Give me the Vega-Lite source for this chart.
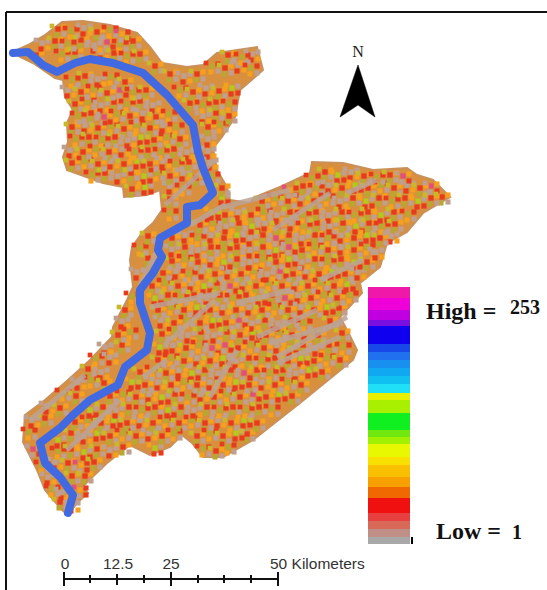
{"$schema":"https://vega.github.io/schema/vega-lite/v6.json","width":547,"height":590,"padding":0,"autosize":{"type":"none"},"background":"white","config":{"view":{"stroke":null}},
"datasets":{
"basin":[{"x":13,"y":52},{"x":28,"y":45},{"x":45,"y":35},{"x":62,"y":22},{"x":83,"y":21},{"x":110,"y":25},{"x":137,"y":33},{"x":150,"y":47},{"x":162,"y":63},{"x":187,"y":67},{"x":203,"y":65},{"x":217,"y":53},{"x":257,"y":47},{"x":263,"y":70},{"x":240,"y":90},{"x":235,"y":117},{"x":222,"y":137},{"x":213,"y":148},{"x":217,"y":170},{"x":227,"y":187},{"x":230,"y":200},{"x":250,"y":203},{"x":255,"y":197},{"x":280,"y":187},{"x":310,"y":173},{"x":312,"y":162},{"x":343,"y":163},{"x":373,"y":170},{"x":407,"y":168},{"x":417,"y":175},{"x":433,"y":180},{"x":450,"y":197},{"x":423,"y":213},{"x":407,"y":232},{"x":387,"y":243},{"x":380,"y":267},{"x":360,"y":283},{"x":362,"y":293},{"x":340,"y":317},{"x":347,"y":330},{"x":357,"y":350},{"x":353,"y":360},{"x":300,"y":403},{"x":253,"y":440},{"x":223,"y":457},{"x":203,"y":457},{"x":192,"y":443},{"x":182,"y":435},{"x":170,"y":447},{"x":150,"y":455},{"x":130,"y":445},{"x":107,"y":463},{"x":82,"y":487},{"x":88,"y":493},{"x":77,"y":503},{"x":68,"y":515},{"x":62,"y":510},{"x":45,"y":490},{"x":37,"y":470},{"x":23,"y":442},{"x":25,"y":415},{"x":45,"y":400},{"x":68,"y":380},{"x":90,"y":360},{"x":112,"y":337},{"x":113,"y":327},{"x":127,"y":300},{"x":133,"y":287},{"x":130,"y":260},{"x":132,"y":247},{"x":143,"y":232},{"x":153,"y":223},{"x":162,"y":210},{"x":160,"y":190},{"x":147,"y":195},{"x":124,"y":197},{"x":123,"y":187},{"x":103,"y":183},{"x":67,"y":170},{"x":63,"y":157},{"x":68,"y":142},{"x":67,"y":123},{"x":73,"y":110},{"x":65,"y":97},{"x":63,"y":80},{"x":55,"y":78},{"x":33,"y":63},{"x":20,"y":57}],
"river":[{"x":13,"y":53},{"x":28,"y":52},{"x":43,"y":65},{"x":57,"y":72},{"x":75,"y":63},{"x":90,"y":59},{"x":113,"y":63},{"x":143,"y":73},{"x":167,"y":95},{"x":193,"y":125},{"x":198,"y":152},{"x":203,"y":168},{"x":213,"y":193},{"x":200,"y":205},{"x":187,"y":207},{"x":187,"y":223},{"x":160,"y":238},{"x":158,"y":250},{"x":162,"y":257},{"x":153,"y":273},{"x":140,"y":290},{"x":140,"y":303},{"x":150,"y":333},{"x":147,"y":350},{"x":125,"y":367},{"x":118,"y":385},{"x":90,"y":400},{"x":73,"y":415},{"x":60,"y":428},{"x":40,"y":443},{"x":45,"y":463},{"x":60,"y":477},{"x":73,"y":495},{"x":68,"y":513}],
"ridges":[{"s":1,"x":257,"y":337},{"s":1,"x":317,"y":310},{"s":2,"x":277,"y":357},{"s":2,"x":347,"y":317},{"s":3,"x":237,"y":303},{"s":3,"x":290,"y":290},{"s":4,"x":150,"y":307},{"s":4,"x":220,"y":293},{"s":5,"x":320,"y":280},{"s":5,"x":363,"y":260},{"s":6,"x":67,"y":450},{"s":6,"x":103,"y":417},{"s":7,"x":87,"y":430},{"s":7,"x":120,"y":400},{"s":8,"x":270,"y":343},{"s":8,"x":343,"y":323},{"s":9,"x":277,"y":363},{"s":9,"x":340,"y":337},{"s":10,"x":210,"y":397},{"s":10,"x":237,"y":350},{"s":11,"x":143,"y":377},{"s":11,"x":167,"y":360},{"s":12,"x":223,"y":207},{"s":12,"x":290,"y":190},{"s":13,"x":347,"y":193},{"s":13,"x":377,"y":180},{"s":14,"x":273,"y":230},{"s":14,"x":330,"y":193},{"s":15,"x":140,"y":285},{"s":15,"x":160,"y":245},{"s":16,"x":170,"y":340},{"s":16,"x":215,"y":300},{"s":17,"x":30,"y":420},{"s":17,"x":85,"y":375},{"s":18,"x":190,"y":225},{"s":18,"x":225,"y":205},{"s":19,"x":165,"y":205},{"s":19,"x":215,"y":160}],
"cells":[
{"x":58,"y":29,"k":"r"},{"x":71,"y":31,"k":"l"},{"x":84,"y":28,"k":"g"},{"x":97,"y":32,"k":"r"},{"x":110,"y":30,"k":"l"},{"x":122,"y":34,"k":"o"},
{"x":42,"y":43,"k":"g"},{"x":55,"y":41,"k":"r"},{"x":68,"y":44,"k":"l"},{"x":81,"y":40,"k":"r"},{"x":94,"y":45,"k":"g"},{"x":107,"y":42,"k":"p"},{"x":120,"y":44,"k":"l"},{"x":133,"y":41,"k":"r"},
{"x":36,"y":55,"k":"r"},{"x":62,"y":54,"k":"l"},{"x":75,"y":52,"k":"r"},{"x":101,"y":52,"k":"g"},{"x":114,"y":53,"k":"r"},{"x":127,"y":56,"k":"l"},{"x":140,"y":54,"k":"r"},{"x":228,"y":55,"k":"r"},{"x":242,"y":57,"k":"l"},{"x":252,"y":54,"k":"g"},
{"x":155,"y":66,"k":"r"},{"x":212,"y":66,"k":"l"},{"x":225,"y":68,"k":"r"},{"x":238,"y":65,"k":"g"},{"x":251,"y":68,"k":"l"},{"x":170,"y":74,"k":"r"},{"x":184,"y":76,"k":"g"},{"x":197,"y":74,"k":"r"},{"x":72,"y":80,"k":"l"},{"x":85,"y":76,"k":"r"},{"x":98,"y":79,"k":"g"},{"x":111,"y":77,"k":"l"},{"x":125,"y":82,"k":"r"},
{"x":68,"y":90,"k":"g"},{"x":81,"y":92,"k":"r"},{"x":94,"y":89,"k":"l"},{"x":107,"y":93,"k":"r"},{"x":120,"y":90,"k":"p"},{"x":133,"y":92,"k":"l"},{"x":146,"y":90,"k":"r"},{"x":180,"y":90,"k":"l"},{"x":193,"y":92,"k":"r"},{"x":206,"y":88,"k":"g"},{"x":219,"y":91,"k":"r"},{"x":232,"y":88,"k":"y"},
{"x":75,"y":104,"k":"r"},{"x":88,"y":102,"k":"l"},{"x":101,"y":105,"k":"g"},{"x":114,"y":102,"k":"r"},{"x":127,"y":104,"k":"l"},{"x":140,"y":101,"k":"r"},{"x":153,"y":105,"k":"g"},{"x":190,"y":103,"k":"r"},{"x":203,"y":105,"k":"l"},{"x":216,"y":102,"k":"r"},{"x":229,"y":104,"k":"l"},
{"x":78,"y":116,"k":"l"},{"x":91,"y":113,"k":"r"},{"x":104,"y":117,"k":"p"},{"x":117,"y":114,"k":"l"},{"x":130,"y":116,"k":"r"},{"x":143,"y":113,"k":"g"},{"x":156,"y":117,"k":"r"},{"x":169,"y":114,"k":"l"},{"x":203,"y":116,"k":"g"},{"x":216,"y":113,"k":"r"},{"x":229,"y":116,"k":"r"},
{"x":72,"y":127,"k":"r"},{"x":85,"y":125,"k":"g"},{"x":98,"y":128,"k":"r"},{"x":111,"y":126,"k":"l"},{"x":124,"y":129,"k":"r"},{"x":137,"y":125,"k":"l"},{"x":150,"y":128,"k":"r"},{"x":163,"y":125,"k":"g"},{"x":176,"y":127,"k":"l"},{"x":208,"y":127,"k":"r"},{"x":220,"y":125,"k":"l"},
{"x":76,"y":139,"k":"l"},{"x":89,"y":137,"k":"r"},{"x":102,"y":140,"k":"l"},{"x":115,"y":137,"k":"r"},{"x":128,"y":140,"k":"g"},{"x":141,"y":137,"k":"y"},{"x":154,"y":140,"k":"r"},{"x":167,"y":137,"k":"l"},{"x":180,"y":139,"k":"r"},{"x":208,"y":139,"k":"g"},
{"x":70,"y":150,"k":"g"},{"x":83,"y":152,"k":"r"},{"x":96,"y":149,"k":"l"},{"x":109,"y":152,"k":"r"},{"x":122,"y":149,"k":"g"},{"x":135,"y":152,"k":"l"},{"x":148,"y":150,"k":"r"},{"x":161,"y":152,"k":"l"},{"x":174,"y":149,"k":"r"},{"x":187,"y":152,"k":"g"},{"x":208,"y":151,"k":"g"},
{"x":72,"y":163,"k":"r"},{"x":85,"y":161,"k":"l"},{"x":98,"y":164,"k":"r"},{"x":111,"y":161,"k":"g"},{"x":124,"y":164,"k":"r"},{"x":137,"y":161,"k":"y"},{"x":150,"y":164,"k":"r"},{"x":163,"y":161,"k":"g"},{"x":176,"y":164,"k":"l"},{"x":189,"y":162,"k":"r"},{"x":210,"y":162,"k":"g"},
{"x":92,"y":175,"k":"l"},{"x":105,"y":173,"k":"r"},{"x":118,"y":176,"k":"g"},{"x":131,"y":173,"k":"r"},{"x":144,"y":176,"k":"y"},{"x":157,"y":173,"k":"l"},{"x":170,"y":176,"k":"r"},{"x":183,"y":173,"k":"g"},{"x":196,"y":178,"k":"r"},{"x":212,"y":176,"k":"l"},{"x":312,"y":178,"k":"l"},{"x":325,"y":172,"k":"r"},{"x":338,"y":175,"k":"y"},{"x":351,"y":172,"k":"g"},{"x":364,"y":176,"k":"r"},{"x":377,"y":177,"k":"l"},{"x":390,"y":175,"k":"r"},{"x":403,"y":176,"k":"p"},
{"x":132,"y":189,"k":"r"},{"x":145,"y":187,"k":"y"},{"x":170,"y":186,"k":"g"},{"x":183,"y":188,"k":"l"},{"x":222,"y":188,"k":"r"},{"x":290,"y":190,"k":"o"},{"x":303,"y":186,"k":"r"},{"x":316,"y":188,"k":"l"},{"x":329,"y":185,"k":"g"},{"x":342,"y":188,"k":"r"},{"x":355,"y":185,"k":"y"},{"x":368,"y":188,"k":"r"},{"x":381,"y":185,"k":"l"},{"x":394,"y":188,"k":"r"},{"x":407,"y":185,"k":"g"},{"x":420,"y":188,"k":"r"},{"x":431,"y":186,"k":"p"},
{"x":170,"y":199,"k":"r"},{"x":222,"y":197,"k":"y"},{"x":262,"y":201,"k":"r"},{"x":275,"y":198,"k":"l"},{"x":288,"y":201,"k":"r"},{"x":301,"y":198,"k":"g"},{"x":314,"y":201,"k":"r"},{"x":327,"y":198,"k":"l"},{"x":340,"y":201,"k":"g"},{"x":353,"y":198,"k":"r"},{"x":366,"y":201,"k":"y"},{"x":379,"y":198,"k":"r"},{"x":392,"y":201,"k":"l"},{"x":405,"y":198,"k":"r"},{"x":418,"y":201,"k":"y"},{"x":431,"y":198,"k":"r"},{"x":442,"y":197,"k":"r"},
{"x":212,"y":212,"k":"y"},{"x":225,"y":215,"k":"r"},{"x":238,"y":212,"k":"g"},{"x":251,"y":215,"k":"r"},{"x":264,"y":212,"k":"l"},{"x":277,"y":215,"k":"g"},{"x":290,"y":212,"k":"r"},{"x":303,"y":215,"k":"l"},{"x":316,"y":212,"k":"r"},{"x":329,"y":215,"k":"g"},{"x":342,"y":212,"k":"r"},{"x":355,"y":215,"k":"l"},{"x":368,"y":212,"k":"r"},{"x":381,"y":215,"k":"y"},{"x":394,"y":212,"k":"r"},{"x":408,"y":214,"k":"l"},{"x":170,"y":213,"k":"l"},
{"x":200,"y":225,"k":"r"},{"x":213,"y":223,"k":"l"},{"x":226,"y":226,"k":"g"},{"x":239,"y":223,"k":"r"},{"x":252,"y":226,"k":"y"},{"x":265,"y":223,"k":"g"},{"x":278,"y":226,"k":"r"},{"x":291,"y":223,"k":"g"},{"x":304,"y":226,"k":"l"},{"x":317,"y":223,"k":"r"},{"x":330,"y":226,"k":"g"},{"x":343,"y":223,"k":"r"},{"x":356,"y":226,"k":"y"},{"x":369,"y":223,"k":"r"},{"x":382,"y":226,"k":"l"},{"x":395,"y":224,"k":"r"},
{"x":148,"y":236,"k":"r"},{"x":172,"y":238,"k":"r"},{"x":185,"y":235,"k":"g"},{"x":198,"y":238,"k":"l"},{"x":211,"y":235,"k":"g"},{"x":224,"y":238,"k":"r"},{"x":237,"y":235,"k":"y"},{"x":250,"y":238,"k":"g"},{"x":263,"y":235,"k":"r"},{"x":276,"y":238,"k":"p"},{"x":289,"y":235,"k":"r"},{"x":302,"y":238,"k":"g"},{"x":315,"y":235,"k":"r"},{"x":328,"y":238,"k":"l"},{"x":341,"y":235,"k":"g"},{"x":354,"y":238,"k":"r"},{"x":367,"y":235,"k":"y"},{"x":380,"y":238,"k":"r"},{"x":391,"y":236,"k":"g"},
{"x":140,"y":248,"k":"l"},{"x":148,"y":258,"k":"r"},{"x":172,"y":249,"k":"g"},{"x":185,"y":247,"k":"r"},{"x":198,"y":250,"k":"g"},{"x":211,"y":247,"k":"r"},{"x":224,"y":250,"k":"l"},{"x":237,"y":247,"k":"r"},{"x":250,"y":250,"k":"g"},{"x":263,"y":247,"k":"r"},{"x":276,"y":250,"k":"y"},{"x":289,"y":247,"k":"p"},{"x":302,"y":250,"k":"r"},{"x":315,"y":247,"k":"l"},{"x":328,"y":250,"k":"r"},{"x":341,"y":247,"k":"g"},{"x":354,"y":250,"k":"r"},{"x":367,"y":247,"k":"l"},{"x":376,"y":252,"k":"g"},
{"x":172,"y":261,"k":"r"},{"x":185,"y":259,"k":"l"},{"x":198,"y":262,"k":"r"},{"x":211,"y":259,"k":"g"},{"x":224,"y":262,"k":"y"},{"x":237,"y":259,"k":"r"},{"x":250,"y":262,"k":"g"},{"x":263,"y":259,"k":"l"},{"x":276,"y":262,"k":"r"},{"x":289,"y":259,"k":"y"},{"x":302,"y":262,"k":"g"},{"x":315,"y":259,"k":"r"},{"x":328,"y":262,"k":"l"},{"x":341,"y":259,"k":"r"},{"x":354,"y":262,"k":"y"},{"x":367,"y":262,"k":"r"},
{"x":137,"y":272,"k":"g"},{"x":163,"y":273,"k":"r"},{"x":176,"y":271,"k":"g"},{"x":189,"y":274,"k":"l"},{"x":202,"y":271,"k":"g"},{"x":215,"y":274,"k":"r"},{"x":228,"y":271,"k":"g"},{"x":241,"y":274,"k":"r"},{"x":254,"y":271,"k":"l"},{"x":267,"y":274,"k":"g"},{"x":280,"y":271,"k":"p"},{"x":293,"y":274,"k":"r"},{"x":306,"y":271,"k":"g"},{"x":319,"y":274,"k":"r"},{"x":332,"y":271,"k":"y"},{"x":345,"y":274,"k":"r"},{"x":358,"y":272,"k":"g"},
{"x":152,"y":286,"k":"r"},{"x":165,"y":283,"k":"l"},{"x":178,"y":286,"k":"r"},{"x":191,"y":283,"k":"g"},{"x":204,"y":286,"k":"y"},{"x":217,"y":283,"k":"r"},{"x":230,"y":286,"k":"p"},{"x":243,"y":283,"k":"g"},{"x":256,"y":286,"k":"r"},{"x":269,"y":283,"k":"l"},{"x":282,"y":286,"k":"r"},{"x":295,"y":283,"k":"g"},{"x":308,"y":286,"k":"r"},{"x":321,"y":283,"k":"l"},{"x":334,"y":286,"k":"r"},{"x":347,"y":284,"k":"y"},
{"x":132,"y":296,"k":"l"},{"x":155,"y":298,"k":"y"},{"x":168,"y":295,"k":"r"},{"x":181,"y":298,"k":"l"},{"x":194,"y":295,"k":"r"},{"x":207,"y":298,"k":"g"},{"x":220,"y":295,"k":"r"},{"x":233,"y":298,"k":"l"},{"x":246,"y":295,"k":"r"},{"x":259,"y":298,"k":"y"},{"x":272,"y":295,"k":"r"},{"x":285,"y":298,"k":"p"},{"x":298,"y":295,"k":"g"},{"x":311,"y":298,"k":"r"},{"x":324,"y":295,"k":"l"},{"x":337,"y":298,"k":"r"},{"x":350,"y":295,"k":"l"},
{"x":158,"y":310,"k":"r"},{"x":171,"y":307,"k":"l"},{"x":184,"y":310,"k":"r"},{"x":197,"y":307,"k":"y"},{"x":210,"y":310,"k":"r"},{"x":223,"y":307,"k":"g"},{"x":236,"y":310,"k":"r"},{"x":249,"y":307,"k":"g"},{"x":262,"y":310,"k":"r"},{"x":275,"y":307,"k":"l"},{"x":288,"y":310,"k":"r"},{"x":301,"y":307,"k":"g"},{"x":314,"y":310,"k":"r"},{"x":327,"y":307,"k":"y"},{"x":339,"y":308,"k":"r"},{"x":125,"y":310,"k":"r"},
{"x":122,"y":321,"k":"g"},{"x":161,"y":320,"k":"g"},{"x":174,"y":323,"k":"r"},{"x":187,"y":320,"k":"l"},{"x":200,"y":323,"k":"r"},{"x":213,"y":320,"k":"y"},{"x":226,"y":323,"k":"r"},{"x":239,"y":320,"k":"p"},{"x":252,"y":323,"k":"g"},{"x":265,"y":320,"k":"r"},{"x":278,"y":323,"k":"g"},{"x":291,"y":320,"k":"r"},{"x":304,"y":323,"k":"l"},{"x":330,"y":321,"k":"r"},
{"x":130,"y":332,"k":"l"},{"x":118,"y":335,"k":"r"},{"x":162,"y":334,"k":"r"},{"x":175,"y":332,"k":"l"},{"x":188,"y":335,"k":"g"},{"x":201,"y":332,"k":"r"},{"x":214,"y":335,"k":"g"},{"x":227,"y":332,"k":"r"},{"x":240,"y":335,"k":"r"},{"x":253,"y":332,"k":"y"},{"x":266,"y":335,"k":"r"},{"x":279,"y":332,"k":"l"},{"x":292,"y":335,"k":"r"},{"x":305,"y":332,"k":"g"},{"x":318,"y":335,"k":"r"},{"x":342,"y":333,"k":"r"},
{"x":105,"y":347,"k":"g"},{"x":122,"y":345,"k":"r"},{"x":160,"y":347,"k":"y"},{"x":173,"y":345,"k":"g"},{"x":186,"y":348,"k":"r"},{"x":199,"y":345,"k":"l"},{"x":212,"y":348,"k":"p"},{"x":225,"y":345,"k":"p"},{"x":238,"y":348,"k":"r"},{"x":251,"y":345,"k":"l"},{"x":264,"y":348,"k":"r"},{"x":277,"y":345,"k":"g"},{"x":290,"y":348,"k":"y"},{"x":303,"y":345,"k":"r"},{"x":316,"y":348,"k":"g"},{"x":329,"y":345,"k":"r"},{"x":343,"y":347,"k":"l"},
{"x":96,"y":358,"k":"l"},{"x":110,"y":357,"k":"g"},{"x":158,"y":360,"k":"r"},{"x":171,"y":358,"k":"l"},{"x":184,"y":361,"k":"r"},{"x":197,"y":358,"k":"g"},{"x":210,"y":361,"k":"r"},{"x":223,"y":358,"k":"y"},{"x":236,"y":361,"k":"g"},{"x":249,"y":358,"k":"r"},{"x":262,"y":361,"k":"l"},{"x":275,"y":358,"k":"r"},{"x":288,"y":361,"k":"r"},{"x":301,"y":358,"k":"y"},{"x":314,"y":361,"k":"r"},{"x":327,"y":358,"k":"l"},{"x":340,"y":360,"k":"r"},
{"x":88,"y":369,"k":"r"},{"x":101,"y":372,"k":"g"},{"x":140,"y":372,"k":"r"},{"x":153,"y":370,"k":"l"},{"x":166,"y":373,"k":"r"},{"x":179,"y":370,"k":"g"},{"x":192,"y":373,"k":"y"},{"x":205,"y":370,"k":"r"},{"x":218,"y":373,"k":"g"},{"x":231,"y":370,"k":"r"},{"x":244,"y":373,"k":"p"},{"x":257,"y":370,"k":"r"},{"x":270,"y":373,"k":"l"},{"x":283,"y":370,"k":"r"},{"x":296,"y":373,"k":"g"},{"x":309,"y":370,"k":"y"},{"x":322,"y":372,"k":"r"},
{"x":78,"y":382,"k":"g"},{"x":91,"y":380,"k":"l"},{"x":104,"y":383,"k":"r"},{"x":132,"y":382,"k":"y"},{"x":145,"y":385,"k":"r"},{"x":158,"y":382,"k":"g"},{"x":171,"y":385,"k":"r"},{"x":184,"y":382,"k":"l"},{"x":197,"y":385,"k":"r"},{"x":210,"y":382,"k":"g"},{"x":223,"y":385,"k":"r"},{"x":236,"y":382,"k":"y"},{"x":249,"y":385,"k":"r"},{"x":262,"y":382,"k":"g"},{"x":275,"y":385,"k":"r"},{"x":288,"y":382,"k":"l"},{"x":301,"y":385,"k":"r"},
{"x":63,"y":393,"k":"l"},{"x":76,"y":396,"k":"r"},{"x":110,"y":396,"k":"r"},{"x":123,"y":394,"k":"l"},{"x":136,"y":397,"k":"r"},{"x":149,"y":394,"k":"g"},{"x":162,"y":397,"k":"y"},{"x":175,"y":394,"k":"r"},{"x":188,"y":397,"k":"l"},{"x":201,"y":394,"k":"g"},{"x":214,"y":397,"k":"r"},{"x":227,"y":394,"k":"l"},{"x":240,"y":397,"k":"r"},{"x":253,"y":394,"k":"p"},{"x":266,"y":397,"k":"r"},{"x":279,"y":394,"k":"y"},{"x":292,"y":396,"k":"r"},
{"x":47,"y":406,"k":"g"},{"x":60,"y":408,"k":"r"},{"x":90,"y":410,"k":"y"},{"x":103,"y":407,"k":"r"},{"x":116,"y":410,"k":"g"},{"x":129,"y":407,"k":"r"},{"x":142,"y":410,"k":"l"},{"x":155,"y":407,"k":"r"},{"x":168,"y":410,"k":"y"},{"x":181,"y":407,"k":"r"},{"x":194,"y":410,"k":"g"},{"x":207,"y":407,"k":"r"},{"x":220,"y":410,"k":"l"},{"x":233,"y":407,"k":"r"},{"x":246,"y":410,"k":"l"},{"x":259,"y":407,"k":"r"},{"x":272,"y":409,"k":"l"},
{"x":32,"y":420,"k":"g"},{"x":45,"y":418,"k":"r"},{"x":75,"y":422,"k":"r"},{"x":88,"y":420,"k":"l"},{"x":101,"y":423,"k":"r"},{"x":114,"y":420,"k":"y"},{"x":127,"y":423,"k":"r"},{"x":140,"y":420,"k":"g"},{"x":153,"y":423,"k":"r"},{"x":166,"y":420,"k":"l"},{"x":179,"y":423,"k":"r"},{"x":192,"y":420,"k":"l"},{"x":205,"y":423,"k":"r"},{"x":218,"y":420,"k":"g"},{"x":231,"y":423,"k":"r"},{"x":244,"y":420,"k":"y"},{"x":257,"y":423,"k":"r"},
{"x":29,"y":432,"k":"l"},{"x":58,"y":440,"k":"y"},{"x":71,"y":433,"k":"r"},{"x":84,"y":436,"k":"g"},{"x":97,"y":433,"k":"y"},{"x":110,"y":436,"k":"r"},{"x":123,"y":433,"k":"l"},{"x":136,"y":436,"k":"r"},{"x":149,"y":433,"k":"g"},{"x":162,"y":436,"k":"r"},{"x":174,"y":433,"k":"l"},{"x":197,"y":436,"k":"r"},{"x":210,"y":433,"k":"l"},{"x":223,"y":436,"k":"r"},{"x":236,"y":433,"k":"y"},{"x":247,"y":434,"k":"r"},
{"x":33,"y":449,"k":"p"},{"x":58,"y":451,"k":"l"},{"x":71,"y":449,"k":"r"},{"x":84,"y":452,"k":"y"},{"x":97,"y":449,"k":"r"},{"x":110,"y":450,"k":"g"},{"x":123,"y":447,"k":"r"},{"x":155,"y":448,"k":"y"},{"x":203,"y":449,"k":"l"},{"x":216,"y":451,"k":"r"},{"x":228,"y":447,"k":"l"},
{"x":42,"y":465,"k":"l"},{"x":68,"y":463,"k":"r"},{"x":81,"y":465,"k":"o"},{"x":94,"y":462,"k":"r"},{"x":55,"y":462,"k":"g"},
{"x":48,"y":477,"k":"g"},{"x":72,"y":476,"k":"r"},{"x":85,"y":476,"k":"r"},{"x":52,"y":489,"k":"l"},{"x":62,"y":492,"k":"g"},{"x":80,"y":490,"k":"o"},{"x":60,"y":502,"k":"r"},{"x":72,"y":505,"k":"g"}
],
"bands":[{"x":368,"x2":410,"y":287,"y2":298,"c":"#f018a8"},{"x":368,"x2":410,"y":298,"y2":310,"c":"#f000d8"},{"x":368,"x2":410,"y":310,"y2":320,"c":"#c000e0"},{"x":368,"x2":410,"y":320,"y2":326,"c":"#7a10e0"},{"x":368,"x2":410,"y":326,"y2":344,"c":"#1000f0"},{"x":368,"x2":410,"y":344,"y2":352,"c":"#1848e8"},{"x":368,"x2":410,"y":352,"y2":360,"c":"#2070f0"},{"x":368,"x2":410,"y":360,"y2":368,"c":"#1890f0"},{"x":368,"x2":410,"y":368,"y2":376,"c":"#10a8f0"},{"x":368,"x2":410,"y":376,"y2":384,"c":"#10c0f0"},{"x":368,"x2":410,"y":384,"y2":393,"c":"#20e0f8"},{"x":368,"x2":410,"y":393,"y2":400,"c":"#e8f000"},{"x":368,"x2":410,"y":400,"y2":413,"c":"#a8f000"},{"x":368,"x2":410,"y":413,"y2":430,"c":"#10f020"},{"x":368,"x2":410,"y":430,"y2":437,"c":"#70e810"},{"x":368,"x2":410,"y":437,"y2":444,"c":"#a0f000"},{"x":368,"x2":410,"y":444,"y2":457,"c":"#e8f800"},{"x":368,"x2":410,"y":457,"y2":465,"c":"#f8e000"},{"x":368,"x2":410,"y":465,"y2":477,"c":"#f8c000"},{"x":368,"x2":410,"y":477,"y2":487,"c":"#f8a000"},{"x":368,"x2":410,"y":487,"y2":498,"c":"#f06800"},{"x":368,"x2":410,"y":498,"y2":513,"c":"#f01010"},{"x":368,"x2":410,"y":513,"y2":521,"c":"#e84040"},{"x":368,"x2":410,"y":521,"y2":529,"c":"#d86858"},{"x":368,"x2":410,"y":529,"y2":537,"c":"#c09088"},{"x":368,"x2":410,"y":537,"y2":544,"c":"#a8a8a8"},{"x":411,"x2":413,"y":537,"y2":544,"c":"#000000"}],
"ticks":[{"x":64,"y":572,"y2":586},{"x":90,"y":575,"y2":583},{"x":117,"y":574,"y2":585},{"x":144,"y":575,"y2":583},{"x":171,"y":572,"y2":586},{"x":198,"y":575,"y2":583},{"x":224,"y":575,"y2":583},{"x":251,"y":575,"y2":583},{"x":278,"y":572,"y2":586},{"x":6,"y":12,"y2":590}],
"hrules":[{"x":64,"x2":278,"y":579,"w":"bar"},{"x":6,"x2":547,"y":12,"w":"frame"}],
"arrow":[{"x":358,"y":65},{"x":375,"y":117},{"x":358,"y":105},{"x":340,"y":117}]
},
"encoding":{"x":{"field":"x","type":"quantitative","scale":{"domain":[0,547],"nice":false,"zero":false},"axis":null},"y":{"field":"y","type":"quantitative","scale":{"domain":[590,0],"nice":false,"zero":false},"axis":null}},
"resolve":{"scale":{"color":"independent"}},
"layer":[
{"data":{"name":"basin"},"transform":[{"window":[{"op":"row_number","as":"i"}]}],"mark":{"type":"line","fill":"#d8903e","stroke":"#c9905a","strokeWidth":2,"interpolate":"linear-closed"},"encoding":{"order":{"field":"i","type":"quantitative"}}},
{"data":{"name":"cells"},"mark":{"type":"point","shape":"square","filled":true,"size":28,"opacity":1},"encoding":{"color":{"field":"k","type":"nominal","legend":null,"scale":{"domain":["r","o","g","l","y","p"],"range":["#e83a1c","#f5a01e","#bfa090","#b8a832","#b4c81e","#e0507a"]}}}},
{"data":{"name":"cells"},"mark":{"type":"point","shape":"square","filled":true,"size":26,"opacity":1,"xOffset":6,"yOffset":-2},"encoding":{"color":{"field":"k","type":"nominal","legend":null,"scale":{"domain":["r","o","g","l","y","p"],"range":["#f5a01e","#e83a1c","#bfa090","#e83a1c","#bfa090","#f5a01e"]}}}},
{"data":{"name":"cells"},"mark":{"type":"point","shape":"square","filled":true,"size":26,"opacity":1,"xOffset":-1,"yOffset":6},"encoding":{"color":{"field":"k","type":"nominal","legend":null,"scale":{"domain":["r","o","g","l","y","p"],"range":["#b8a832","#bfa090","#e83a1c","#f5a01e","#e83a1c","#bfa090"]}}}},
{"data":{"name":"cells"},"mark":{"type":"point","shape":"square","filled":true,"size":26,"opacity":1,"xOffset":6,"yOffset":5},"encoding":{"color":{"field":"k","type":"nominal","legend":null,"scale":{"domain":["r","o","g","l","y","p"],"range":["#bfa090","#e83a1c","#f5a01e","#bfa090","#e83a1c","#e83a1c"]}}}},
{"data":{"name":"cells"},"mark":{"type":"point","shape":"square","filled":true,"size":22,"opacity":1,"xOffset":-6,"yOffset":-3},"encoding":{"color":{"field":"k","type":"nominal","legend":null,"scale":{"domain":["r","o","g","l","y","p"],"range":["#c8b82a","#e0507a","#bfa090","#e83a1c","#f5a01e","#bfa090"]}}}},
{"data":{"name":"ridges"},"mark":{"type":"line","stroke":"#bca294","strokeWidth":5,"opacity":0.85},"encoding":{"detail":{"field":"s"}}},
{"data":{"name":"river"},"transform":[{"window":[{"op":"row_number","as":"i"}]}],"mark":{"type":"line","stroke":"#4169e1","strokeWidth":8,"strokeJoin":"round","strokeCap":"round"},"encoding":{"order":{"field":"i","type":"quantitative"}}},
{"data":{"name":"bands"},"mark":{"type":"rect"},"encoding":{"x2":{"field":"x2"},"y2":{"field":"y2"},"color":{"field":"c","type":"nominal","scale":null,"legend":null}}},
{"data":{"name":"arrow"},"transform":[{"window":[{"op":"row_number","as":"i"}]}],"mark":{"type":"line","fill":"black","stroke":"black","strokeWidth":0.5,"interpolate":"linear-closed"},"encoding":{"order":{"field":"i","type":"quantitative"}}},
{"data":{"values":[{"x":358,"y":52,"t":"N"}]},"mark":{"type":"text","font":"Liberation Serif","fontSize":16,"align":"center","color":"#222"},"encoding":{"text":{"field":"t"}}},
{"data":{"values":[{"x":426,"y":312,"t":"High ="},{"x":436,"y":532,"t":"Low ="}]},"mark":{"type":"text","font":"Liberation Serif","fontWeight":"bold","fontSize":24,"align":"left","color":"#111"},"encoding":{"text":{"field":"t"}}},
{"data":{"values":[{"x":510,"y":308,"t":"253"},{"x":512,"y":533,"t":"1"}]},"mark":{"type":"text","font":"Liberation Serif","fontWeight":"bold","fontSize":20,"align":"left","color":"#111"},"encoding":{"text":{"field":"t"}}},
{"data":{"values":[{"x":65,"y":564,"t":"0"},{"x":118,"y":564,"t":"12.5"},{"x":171,"y":564,"t":"25"}]},"mark":{"type":"text","font":"Liberation Sans","fontSize":15.5,"align":"center","color":"#333"},"encoding":{"text":{"field":"t"}}},
{"data":{"values":[{"x":270,"y":564,"t":"50 Kilometers"}]},"mark":{"type":"text","font":"Liberation Sans","fontSize":15.5,"align":"left","color":"#333"},"encoding":{"text":{"field":"t"}}},
{"data":{"name":"hrules"},"mark":{"type":"rule","color":"#111","strokeWidth":2},"encoding":{"x2":{"field":"x2"}}},
{"data":{"name":"ticks"},"mark":{"type":"rule","color":"#111","strokeWidth":2},"encoding":{"y2":{"field":"y2"}}}
]}
